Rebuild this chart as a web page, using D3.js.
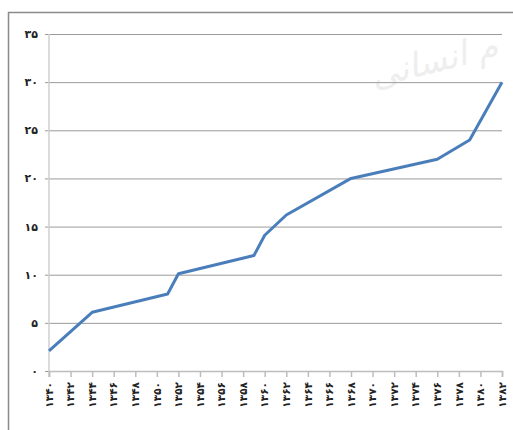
<!DOCTYPE html>
<html>
<head>
<meta charset="utf-8">
<script src="https://cdn.jsdelivr.net/npm/d3@7"></script>
<style>
  html, body { margin: 0; padding: 0; background: #fff; }
  svg { display: block; }
  .y-label { font-family: "DejaVu Sans", sans-serif; font-size: 11px; font-weight: bold; fill: #222; }
  .x-label { font-family: "DejaVu Sans", sans-serif; font-size: 10.5px; font-weight: bold; fill: #222; letter-spacing: 3.2px; }
</style>
</head>
<body>
<div id="chart"></div>
<script>
// vertices (year, value)
const years = [1340, 1344, 1351, 1352, 1359, 1360, 1362, 1368, 1376, 1379, 1382];
const values = [2.1, 6.1, 8.0, 10.1, 12.0, 14.1, 16.2, 20.0, 22.0, 24.0, 30.0];

const tickYears = d3.range(1340, 1383, 2);
const yTicks = [0, 5, 10, 15, 20, 25, 30, 35];

const faDigits = "۰۱۲۳۴۵۶۷۸۹";
const toFa = (n) => String(n).replace(/\d/g, (c) => faDigits[+c]);

const width = 513, height = 430;
const margin = { top: 34, right: 11, bottom: 59, left: 49 };
const innerWidth = width - margin.left - margin.right;
const innerHeight = height - margin.top - margin.bottom;

const svg = d3.select("#chart")
  .append("svg")
  .attr("width", width)
  .attr("height", height);

// outer frame (cut off on right and bottom)
svg.append("path")
  .attr("d", `M8.5,${height}V12.5H${width}`)
  .attr("fill", "none")
  .attr("stroke", "#8a8a8a")
  .attr("stroke-width", 1.5);

// faint watermark
svg.append("g")
  .attr("transform", "translate(437,72) rotate(-14)")
  .append("text")
  .attr("text-anchor", "middle")
  .attr("font-family", "DejaVu Sans, sans-serif")
  .attr("font-size", 34)
  .attr("font-style", "italic")
  .attr("fill", "#eeeeee")
  .text("م انسانی");

const chart = svg.append("g")
  .attr("transform", `translate(${margin.left},${margin.top})`);

const x = d3.scaleLinear()
  .domain([1340, 1382])
  .range([0, innerWidth]);

const y = d3.scaleLinear()
  .domain([0, 35])
  .range([innerHeight, 0]);

// gridlines + y labels
const yAxis = chart.append("g")
  .attr("class", "y-axis")
  .call(d3.axisLeft(y).tickValues(yTicks).tickSize(-innerWidth - 4).tickFormat(toFa).tickPadding(8))
  .attr("transform", "translate(-4,0)");
yAxis.select(".domain").remove();
yAxis.selectAll(".tick line").attr("stroke", "#9a9a9a").attr("stroke-width", 1);
yAxis.selectAll(".tick text").attr("class", "y-label").attr("x", -7);

// y axis line
chart.append("line")
  .attr("x1", 0).attr("x2", 0)
  .attr("y1", 0).attr("y2", innerHeight + 6)
  .attr("stroke", "#cfcfcf")
  .attr("stroke-width", 1.5);

// x axis (ticks only; labels drawn separately, rotated)
const xAxis = chart.append("g")
  .attr("class", "x-axis")
  .attr("transform", `translate(0,${innerHeight})`)
  .call(d3.axisBottom(x).tickValues(tickYears).tickSize(6).tickFormat(""));
xAxis.select(".domain").attr("stroke", "#bdbdbd").attr("stroke-width", 1.5);
xAxis.selectAll(".tick line").attr("stroke", "#bdbdbd").attr("stroke-width", 1.5);

chart.append("g")
  .selectAll("g")
  .data(tickYears)
  .join("g")
  .attr("transform", (d) => `translate(${x(d)},${innerHeight + 11}) rotate(-90)`)
  .append("text")
  .attr("class", "x-label")
  .attr("text-anchor", "end")
  .attr("dy", "0.35em")
  .text(toFa);

// data line
const points = years.map((yr, i) => ({ yr, v: values[i] }));
chart.append("path")
  .datum(points)
  .attr("fill", "none")
  .attr("stroke", "#4a7ebb")
  .attr("stroke-width", 3)
  .attr("stroke-linejoin", "round")
  .attr("d", d3.line().x((d) => x(d.yr)).y((d) => y(d.v)));
</script>
</body>
</html>
